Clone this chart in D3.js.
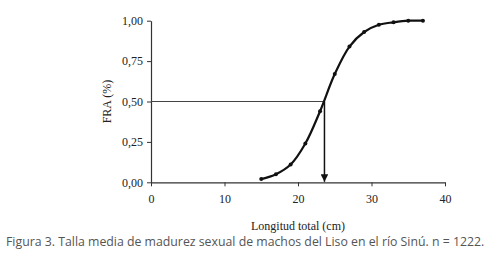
<!DOCTYPE html>
<html><head><meta charset="utf-8">
<script src="https://cdn.jsdelivr.net/npm/d3@7"></script>
<style>body{margin:0;background:#fff}svg{display:block}
.serif{font-family:"Liberation Serif","DejaVu Serif","Times New Roman",Times,serif !important;}
</style>
</head><body>
<script>
const lengths = [15,17,19,21,23,25,27,29,31,33,35,37];
const fra = [0.02,0.05,0.11,0.24,0.44,0.67,0.84,0.93,0.975,0.99,1.0,1.0];
const l50 = 23.6;
const xTicks = [0,10,20,30,40];
const yTicks = [0,0.25,0.5,0.75,1];
const xTitle = "Longitud total (cm)";
const yTitle = "FRA (%)";
const caption = "Figura 3. Talla media de madurez sexual de machos del Liso en el río Sinú. n = 1222.";

const W=486,H=254;
const svg=d3.select("body").append("svg").attr("width",W).attr("height",H);
const x=d3.scaleLinear().domain([0,40]).range([151,445]);
const y=d3.scaleLinear().domain([0,1]).range([182.3,20.7]);
const fmt=d=>d3.format(".2f")(d).replace(".",",");

const xa=svg.append("g").attr("transform",`translate(0,${y(0)})`)
  .call(d3.axisBottom(x).tickValues(xTicks).tickSizeInner(4).tickSizeOuter(0).tickPadding(8));
const ya=svg.append("g").attr("transform",`translate(${x(0)},0)`)
  .call(d3.axisLeft(y).tickValues(yTicks).tickFormat(fmt).tickSizeInner(4).tickSizeOuter(0).tickPadding(4));
[xa,ya].forEach(g=>{
  g.attr("font-family",null).attr("font-size",null);
  g.select(".domain").attr("stroke","#333").attr("stroke-width",1.2);
  g.selectAll(".tick line").attr("stroke","#333");
  g.selectAll("text").attr("class","serif").style("font-size","12px").attr("fill","#222");
});

svg.append("text").attr("class","serif").attr("x",(x(0)+x(40))/2).attr("y",230).attr("text-anchor","middle")
  .style("font-size","12px").attr("fill","#222").text(xTitle);
svg.append("text").attr("class","serif").attr("transform",`translate(111,${y(0.5)}) rotate(-90)`).attr("text-anchor","middle")
  .style("font-size","12px").attr("fill","#222").text(yTitle);

svg.append("line").attr("x1",x(0)).attr("x2",x(l50)).attr("y1",y(0.5)).attr("y2",y(0.5))
  .attr("stroke","#444").attr("stroke-width",1.2);
svg.append("defs").append("marker").attr("id","arr").attr("viewBox","0 0 10 10")
  .attr("refX",10).attr("refY",5).attr("markerWidth",5).attr("markerHeight",5).attr("orient","auto")
  .append("path").attr("d","M0,0L10,5L0,10Z").attr("fill","#111");
svg.append("line").attr("x1",x(l50)).attr("x2",x(l50)).attr("y1",y(0.5)).attr("y2",y(0)-0.5)
  .attr("stroke","#111").attr("stroke-width",1.5).attr("marker-end","url(#arr)");

const pts=lengths.map((l,i)=>[l,fra[i]]);
svg.append("path").datum(pts).attr("fill","none").attr("stroke","#111").attr("stroke-width",2.2)
  .attr("d",d3.line().x(d=>x(d[0])).y(d=>y(d[1])).curve(d3.curveCatmullRom.alpha(0.5)));
svg.selectAll("circle.p").data(pts).join("circle").attr("cx",d=>x(d[0])).attr("cy",d=>y(d[1]))
  .attr("r",2).attr("fill","#111");

svg.append("text").attr("x",6).attr("y",246).style("font-family","'Open Sans','Noto Sans',sans-serif")
  .style("font-size","12.3px").attr("fill","#555").text(caption);
</script>
</body></html>
